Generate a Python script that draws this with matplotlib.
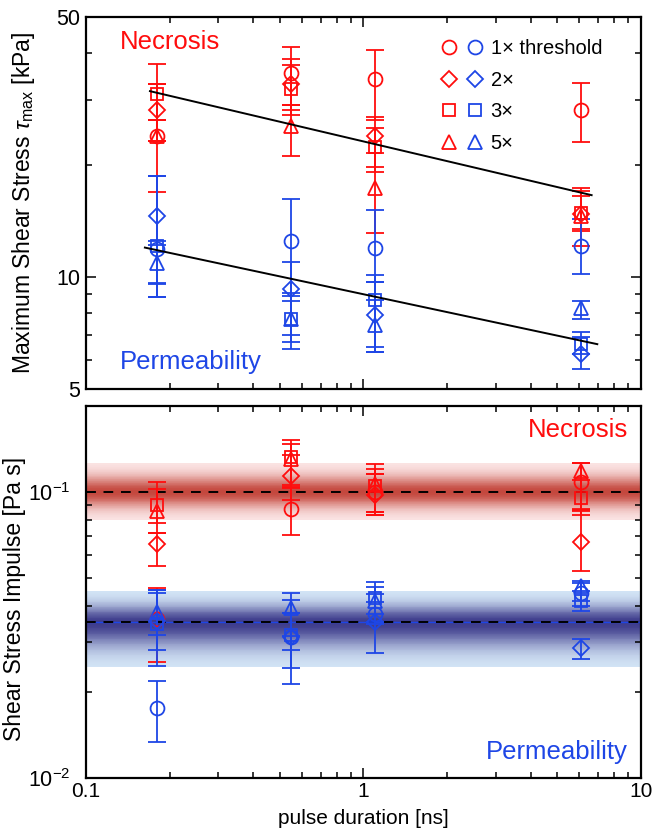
import matplotlib
matplotlib.use("Agg")
import matplotlib.pyplot as plt
import numpy as np
from matplotlib.lines import Line2D
from matplotlib.legend_handler import HandlerTuple
from matplotlib.ticker import LogLocator, NullFormatter, FuncFormatter

plt.rcParams['font.family'] = ['Liberation Sans', 'DejaVu Sans']
plt.rcParams['mathtext.fontset'] = 'custom'
plt.rcParams['mathtext.rm'] = 'Liberation Sans'
plt.rcParams['mathtext.it'] = 'Liberation Sans:italic'

# pulse durations [ns]
durations = [0.18, 0.55, 1.1, 6.1]
levels = ['1\u00d7 threshold', '2\u00d7', '3\u00d7', '5\u00d7']
markers = ['o', 'D', 's', '^']
marker_sizes = [10, 8.5, 9, 10]

# maximum shear stress [kPa], rows = levels, cols = durations
nec_stress = [[23.9, 35.3, 34.0, 28.2],
              [28.2, 33.0, 23.9, 14.8],
              [31.1, 32.0, 22.3, 14.9],
              [23.9, 25.4, 17.3, 14.6]]
nec_stress_lo = [[16.9, 29.0, 26.5, 23.0],
                 [23.2, 28.2, 19.2, 12.1],
                 [26.5, 27.3, 19.8, 13.5],
                 [23.2, 21.1, 13.1, 13.3]]
nec_stress_hi = [[33.0, 41.5, 40.7, 33.2],
                 [37.4, 38.6, 27.0, 17.3],
                 [33.0, 37.2, 25.2, 16.5],
                 [26.5, 29.0, 21.5, 17.0]]

perm_stress = [[11.9, 12.5, 12.0, 12.1],
               [14.6, 9.3, 7.9, 6.2],
               [12.1, 7.7, 8.7, 6.6],
               [10.9, 7.7, 7.45, 8.25]]
perm_stress_lo = [[8.85, 8.9, 9.7, 10.2],
                  [9.6, 7.0, 6.3, 5.65],
                  [8.85, 6.4, 6.5, 6.2],
                  [9.64, 6.7, 6.3, 7.7]]
perm_stress_hi = [[18.7, 16.2, 15.1, 14.3],
                  [18.7, 10.95, 9.67, 6.9],
                  [12.5, 8.6, 10.1, 7.1],
                  [12.2, 9.06, 8.7, 8.6]]

# power-law fits (end points)
nec_fit_x = [0.17, 6.64]
nec_fit_y = [31.6, 16.6]
perm_fit_x = [0.163, 6.96]
perm_fit_y = [12.0, 6.6]

# shear stress impulse [Pa s]
nec_imp = [[0.036, 0.087, 0.100, 0.108],
           [0.066, 0.114, 0.098, 0.067],
           [0.090, 0.133, 0.105, 0.095],
           [0.086, 0.130, 0.107, 0.118]]
nec_imp_lo = [[0.0254, 0.0705, 0.0854, 0.087],
              [0.0552, 0.094, 0.083, 0.053],
              [0.078, 0.106, 0.085, 0.083],
              [0.0718, 0.103, 0.0832, 0.0866]]
nec_imp_hi = [[0.046, 0.104, 0.1155, 0.126],
              [0.0718, 0.135, 0.1155, 0.086],
              [0.108, 0.152, 0.125, 0.11],
              [0.1024, 0.147, 0.12, 0.126]]

perm_imp = [[0.0175, 0.031, 0.0375, 0.0444],
            [0.0355, 0.031, 0.035, 0.0285],
            [0.0345, 0.0315, 0.0426, 0.0415],
            [0.038, 0.0394, 0.0415, 0.0468]]
perm_imp_lo = [[0.0134, 0.0243, 0.0345, 0.040],
               [0.028, 0.0213, 0.0274, 0.026],
               [0.0316, 0.0281, 0.0373, 0.0383],
               [0.0247, 0.0313, 0.035, 0.0415]]
perm_imp_hi = [[0.0219, 0.0378, 0.044, 0.048],
               [0.0444, 0.0419, 0.0412, 0.0307],
               [0.0456, 0.0378, 0.0483, 0.045],
               [0.0456, 0.0444, 0.0466, 0.049]]

# mean impulse and its spread
nec_mean = 0.1
nec_band = [0.0796, 0.1266]
perm_mean = 0.035
perm_band = [0.0244, 0.0449]

RED = '#ff0d0d'
BLUE = '#1e46e6'


def draw_points(ax, vals, lo, hi, color):
    for k in range(4):
        y = np.array(vals[k])
        err = [y - np.array(lo[k]), np.array(hi[k]) - y]
        ax.errorbar(durations, y, yerr=err, fmt=markers[k], ms=marker_sizes[k],
                    mfc='none', mec=color, mew=1.3, ecolor=color,
                    elinewidth=1.3, capsize=6.5, capthick=1.3, zorder=3)


def draw_band(ax, center, band, c_mid, c_edge, n=90):
    edges = np.logspace(np.log10(band[0]), np.log10(band[1]), n + 1)
    c_mid = np.array(c_mid) / 255.0
    c_edge = np.array(c_edge) / 255.0
    for i in range(n):
        mid = np.sqrt(edges[i] * edges[i + 1])
        if mid >= center:
            t = np.log10(mid / center) / np.log10(band[1] / center)
        else:
            t = np.log10(center / mid) / np.log10(center / band[0])
        w = np.exp(-(t * 1.9) ** 2)
        ax.axhspan(edges[i], edges[i + 1], color=c_edge + (c_mid - c_edge) * w,
                   lw=0, zorder=0)


def style_axis(ax):
    ax.set_xscale('log')
    ax.set_yscale('log')
    ax.set_xlim(0.1, 10)
    for s in ax.spines.values():
        s.set_linewidth(1.6)
    ax.tick_params(which='both', direction='in', top=True, right=True,
                   labelsize=15.5, width=1.1, pad=4)
    ax.tick_params(axis='x', pad=3, labelsize=15)
    ax.tick_params(which='major', length=7)
    ax.tick_params(which='minor', length=4.5)
    ax.xaxis.set_major_formatter(FuncFormatter(lambda v, p: '%g' % v))
    ax.xaxis.set_minor_formatter(NullFormatter())


fig = plt.figure(figsize=(6.57, 8.3), dpi=100)
ax1 = fig.add_axes([0.1309, 0.5313, 0.8447, 0.4482])
ax2 = fig.add_axes([0.1309, 0.0627, 0.8447, 0.4482])

# top panel: maximum shear stress
style_axis(ax1)
ax1.set_ylim(5, 50)
ax1.set_yticks([5, 10, 50])
ax1.yaxis.set_major_formatter(FuncFormatter(lambda v, p: '%g' % v))
ax1.yaxis.set_minor_locator(LogLocator(base=10, subs=np.arange(2, 10)))
ax1.yaxis.set_minor_formatter(NullFormatter())
ax1.tick_params(axis='x', labelbottom=False)

draw_points(ax1, nec_stress, nec_stress_lo, nec_stress_hi, RED)
draw_points(ax1, perm_stress, perm_stress_lo, perm_stress_hi, BLUE)
ax1.plot(nec_fit_x, nec_fit_y, color='black', lw=1.4, zorder=4)
ax1.plot(perm_fit_x, perm_fit_y, color='black', lw=1.4, zorder=4)

ax1.text(0.061, 0.933, 'Necrosis', color=RED, fontsize=18.5,
         transform=ax1.transAxes, va='center', ha='left')
ax1.text(0.061, 0.073, 'Permeability', color=BLUE, fontsize=18.5,
         transform=ax1.transAxes, va='center', ha='left')
ax1.set_ylabel(r'Maximum Shear Stress $\tau_{\mathrm{max}}$ [kPa]', fontsize=16.5)
ax1.yaxis.set_label_coords(-0.088, 0.5)

handles = []
for k in range(4):
    h_red = Line2D([], [], ls='none', marker=markers[k], ms=marker_sizes[k],
                   mfc='none', mec=RED, mew=1.3)
    h_blue = Line2D([], [], ls='none', marker=markers[k], ms=marker_sizes[k],
                    mfc='none', mec=BLUE, mew=1.3)
    handles.append((h_red, h_blue))
ax1.legend(handles, levels, handler_map={tuple: HandlerTuple(ndivide=None, pad=0)},
           loc='upper left', bbox_to_anchor=(0.631, 0.94), frameon=False,
           fontsize=14.5, handlelength=2.6, handletextpad=0.1,
           labelspacing=0.62, borderpad=0, borderaxespad=0)

# bottom panel: shear stress impulse
style_axis(ax2)
ax2.set_ylim(0.01, 0.2)
ax2.yaxis.set_major_locator(LogLocator(base=10))
ax2.yaxis.set_minor_locator(LogLocator(base=10, subs=np.arange(2, 10)))
ax2.yaxis.set_minor_formatter(NullFormatter())
ax2.tick_params(axis='y', pad=11)

draw_band(ax2, nec_mean, nec_band, (196, 72, 62), (252, 232, 232))
draw_band(ax2, perm_mean, perm_band, (62, 60, 140), (214, 232, 248))
ax2.axhline(perm_mean, color=BLUE, lw=1.0, zorder=1)
ax2.axhline(nec_mean, color='black', lw=1.4, ls=(0, (5, 4)), zorder=2)
ax2.axhline(perm_mean, color='black', lw=1.4, ls=(0, (5, 4)), zorder=2)

draw_points(ax2, nec_imp, nec_imp_lo, nec_imp_hi, RED)
draw_points(ax2, perm_imp, perm_imp_lo, perm_imp_hi, BLUE)

ax2.text(0.977, 0.935, 'Necrosis', color=RED, fontsize=18.5,
         transform=ax2.transAxes, va='center', ha='right')
ax2.text(0.977, 0.071, 'Permeability', color=BLUE, fontsize=18.5,
         transform=ax2.transAxes, va='center', ha='right')
ax2.set_ylabel('Shear Stress Impulse [Pa s]', fontsize=16.5)
ax2.yaxis.set_label_coords(-0.108, 0.48)
ax2.set_xlabel('pulse duration [ns]', fontsize=15)
ax2.xaxis.label.set_va('bottom')
ax2.xaxis.set_label_coords(0.5, -0.134)

fig.savefig('out.png', dpi=100)
